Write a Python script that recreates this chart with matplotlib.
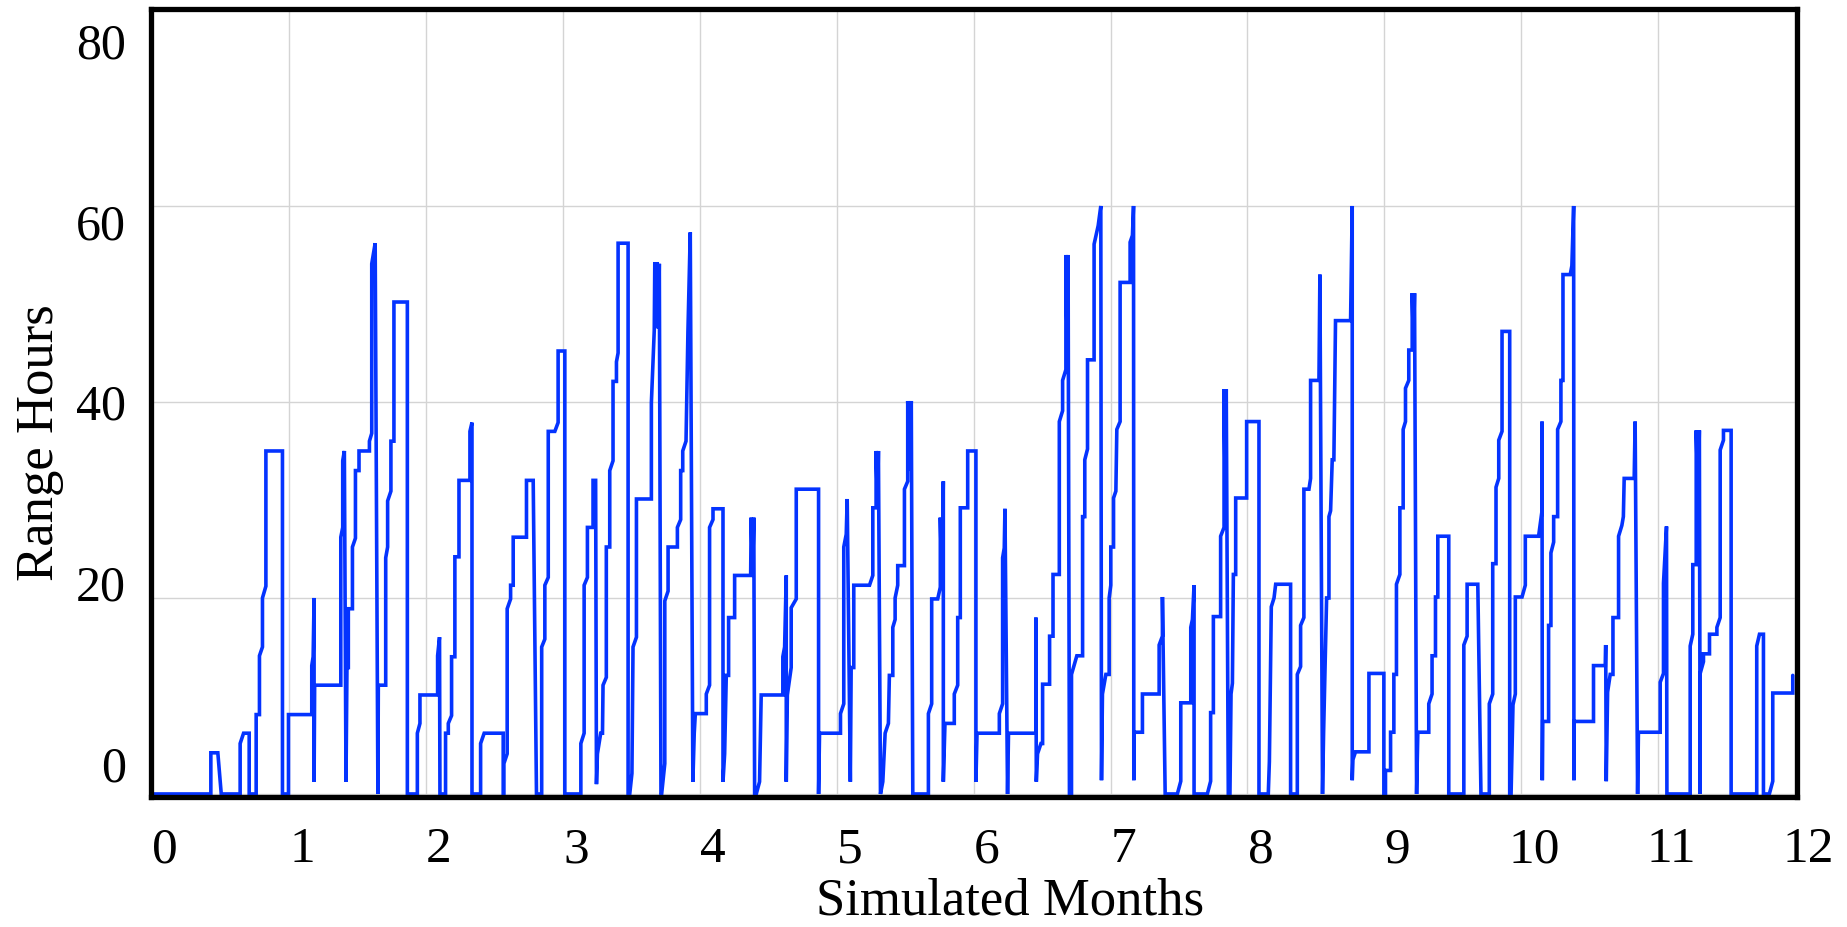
import matplotlib
matplotlib.use("Agg")
import matplotlib.pyplot as plt
from matplotlib.transforms import blended_transform_factory

# ---------------- data (vertices of the simulated trace) ----------------
months = [
    0.000, 0.430, 0.430, 0.481, 0.506, 0.644, 0.644, 0.669, 0.710, 0.710,
    0.761, 0.761, 0.785, 0.785, 0.807, 0.807, 0.832, 0.832, 0.953, 0.953,
    0.997, 0.997, 1.167, 1.167, 1.177, 1.184, 1.184, 1.188, 1.379, 1.379,
    1.393, 1.393, 1.405, 1.417, 1.424, 1.434, 1.434, 1.464, 1.464, 1.486,
    1.486, 1.512, 1.512, 1.588, 1.588, 1.605, 1.605, 1.630, 1.650, 1.653,
    1.707, 1.707, 1.721, 1.721, 1.745, 1.745, 1.767, 1.767, 1.865, 1.865,
    1.938, 1.938, 1.957, 1.957, 2.086, 2.086, 2.100, 2.103, 2.144, 2.144,
    2.164, 2.164, 2.188, 2.188, 2.212, 2.212, 2.242, 2.242, 2.322, 2.322,
    2.337, 2.337, 2.400, 2.400, 2.426, 2.565, 2.565, 2.570, 2.570, 2.594,
    2.594, 2.619, 2.619, 2.638, 2.638, 2.735, 2.735, 2.784, 2.808, 2.846,
    2.846, 2.869, 2.869, 2.894, 2.894, 2.942, 2.966, 2.966, 3.015, 3.015,
    3.132, 3.132, 3.156, 3.156, 3.180, 3.180, 3.221, 3.221, 3.240, 3.246,
    3.253, 3.277, 3.290, 3.294, 3.318, 3.318, 3.343, 3.343, 3.367, 3.367,
    3.392, 3.392, 3.404, 3.404, 3.477, 3.477, 3.489, 3.505, 3.513, 3.538,
    3.538, 3.647, 3.647, 3.668, 3.672, 3.690, 3.698, 3.705, 3.717, 3.722,
    3.745, 3.745, 3.769, 3.769, 3.837, 3.837, 3.861, 3.861, 3.876, 3.876,
    3.900, 3.914, 3.931, 3.950, 3.960, 3.968, 4.048, 4.048, 4.072, 4.072,
    4.097, 4.097, 4.170, 4.170, 4.182, 4.194, 4.211, 4.211, 4.255, 4.255,
    4.372, 4.376, 4.386, 4.395, 4.401, 4.413, 4.437, 4.449, 4.607, 4.607,
    4.620, 4.632, 4.632, 4.640, 4.668, 4.668, 4.705, 4.705, 4.868, 4.868,
    4.875, 5.028, 5.028, 5.052, 5.052, 5.070, 5.077, 5.100, 5.106, 5.125,
    5.125, 5.240, 5.264, 5.264, 5.288, 5.288, 5.298, 5.305, 5.320, 5.337,
    5.354, 5.378, 5.385, 5.410, 5.410, 5.427, 5.427, 5.446, 5.446, 5.495,
    5.495, 5.519, 5.519, 5.532, 5.545, 5.556, 5.670, 5.670, 5.694, 5.694,
    5.738, 5.757, 5.757, 5.768, 5.779, 5.779, 5.791, 5.859, 5.859, 5.884,
    5.884, 5.903, 5.903, 5.957, 5.957, 6.017, 6.017, 6.025, 6.188, 6.188,
    6.212, 6.212, 6.224, 6.229, 6.248, 6.255, 6.455, 6.455, 6.458, 6.467,
    6.492, 6.504, 6.504, 6.555, 6.555, 6.580, 6.580, 6.626, 6.626, 6.650,
    6.650, 6.674, 6.674, 6.684, 6.690, 6.700, 6.715, 6.715, 6.754, 6.796,
    6.796, 6.812, 6.812, 6.832, 6.832, 6.880, 6.880, 6.910, 6.929, 6.934,
    6.941, 6.966, 6.990, 6.990, 7.002, 7.002, 7.022, 7.022, 7.039, 7.046,
    7.070, 7.070, 7.143, 7.143, 7.160, 7.168, 7.170, 7.172, 7.233, 7.233,
    7.355, 7.355, 7.379, 7.379, 7.399, 7.488, 7.513, 7.513, 7.586, 7.586,
    7.598, 7.610, 7.610, 7.707, 7.731, 7.731, 7.751, 7.751, 7.804, 7.804,
    7.829, 7.829, 7.838, 7.845, 7.860, 7.872, 7.880, 7.890, 7.897, 7.914,
    7.914, 7.994, 7.994, 8.084, 8.084, 8.152, 8.160, 8.174, 8.194, 8.206,
    8.315, 8.315, 8.364, 8.364, 8.388, 8.388, 8.412, 8.412, 8.449, 8.461,
    8.461, 8.522, 8.529, 8.548, 8.556, 8.578, 8.595, 8.595, 8.607, 8.619,
    8.631, 8.643, 8.753, 8.765, 8.765, 8.770, 8.789, 8.887, 8.887, 8.996,
    8.996, 9.008, 9.008, 9.045, 9.045, 9.069, 9.069, 9.088, 9.088, 9.113,
    9.113, 9.137, 9.137, 9.154, 9.154, 9.178, 9.178, 9.203, 9.203, 9.212,
    9.220, 9.235, 9.244, 9.324, 9.324, 9.348, 9.348, 9.373, 9.373, 9.390,
    9.390, 9.470, 9.470, 9.580, 9.580, 9.604, 9.604, 9.682, 9.705, 9.766,
    9.766, 9.791, 9.791, 9.815, 9.815, 9.835, 9.835, 9.859, 9.859, 9.915,
    9.915, 9.925, 9.939, 9.956, 9.956, 10.005, 10.029, 10.029, 10.126, 10.151,
    10.151, 10.153, 10.156, 10.199, 10.199, 10.216, 10.216, 10.236, 10.236, 10.265,
    10.265, 10.289, 10.289, 10.304, 10.304, 10.357, 10.369, 10.382, 10.384, 10.386,
    10.527, 10.527, 10.613, 10.616, 10.620, 10.630, 10.649, 10.669, 10.669, 10.710,
    10.710, 10.734, 10.745, 10.751, 10.824, 10.831, 10.849, 10.855, 11.014, 11.014,
    11.038, 11.038, 11.060, 11.063, 11.233, 11.233, 11.252, 11.252, 11.277, 11.277,
    11.290, 11.300, 11.306, 11.306, 11.330, 11.330, 11.374, 11.374, 11.428, 11.428,
    11.452, 11.452, 11.476, 11.476, 11.532, 11.532, 11.719, 11.719, 11.739, 11.768,
    11.768, 11.811, 11.836, 11.836, 11.982, 11.982,
]

range_hours = [
    0.0, 0.0, 4.2, 4.2, 0.0, 0.0, 5.15, 6.2, 6.2, 0.0,
    0.0, 8.1, 8.1, 14.1, 15.0, 20.0, 21.2, 35.0, 35.0, 0.0,
    0.0, 8.1, 8.1, 13.1, 14.0, 20.0, 1.25, 11.1, 11.1, 26.2,
    27.2, 34.0, 35.0, 1.25, 12.9, 12.9, 18.9, 18.9, 25.2, 26.1,
    33.0, 33.0, 35.0, 35.0, 36.0, 36.8, 54.1, 56.2, 0.0, 11.1,
    11.1, 24.1, 25.2, 29.9, 30.9, 36.0, 36.0, 50.2, 50.2, 0.0,
    0.0, 6.2, 7.2, 10.1, 10.1, 14.1, 16.0, 0.0, 0.0, 6.2,
    6.2, 7.2, 8.0, 14.0, 14.0, 24.2, 24.2, 32.0, 32.0, 37.0,
    37.9, 0.0, 0.0, 5.15, 6.2, 6.2, 0.0, 0.0, 3.1, 4.1,
    18.9, 19.9, 21.3, 21.3, 26.2, 26.2, 32.0, 32.0, 0.0, 0.0,
    15.0, 15.8, 21.3, 22.1, 37.0, 37.0, 37.9, 45.2, 45.2, 0.0,
    0.0, 5.15, 6.2, 21.3, 22.1, 27.2, 27.2, 32.0, 32.0, 1.0,
    4.1, 6.2, 6.2, 11.1, 11.9, 25.2, 25.2, 33.0, 34.0, 42.1,
    42.1, 44.1, 45.0, 56.2, 56.2, 0.0, 0.0, 2.1, 15.0, 16.0,
    30.1, 30.1, 39.9, 47.3, 54.1, 54.1, 47.5, 54.1, 0.0, 0.0,
    3.1, 19.7, 20.7, 25.2, 25.2, 27.2, 28.0, 33.0, 33.0, 35.0,
    36.0, 47.2, 57.3, 1.25, 6.2, 8.2, 8.2, 10.2, 11.1, 27.2,
    28.0, 29.1, 29.1, 1.25, 4.1, 12.1, 12.1, 18.0, 18.0, 22.3,
    22.3, 28.2, 22.3, 28.2, 0.0, 0.0, 1.25, 10.1, 10.1, 14.0,
    15.0, 22.3, 1.25, 10.1, 12.9, 19.0, 19.9, 31.1, 31.1, 0.0,
    6.2, 6.2, 8.2, 9.2, 25.2, 26.5, 30.1, 1.25, 12.9, 12.9,
    21.3, 21.3, 22.3, 29.2, 29.2, 35.0, 29.5, 35.0, 0.0, 1.25,
    6.2, 7.2, 12.1, 12.1, 17.0, 17.8, 20.0, 21.3, 23.3, 23.3,
    31.1, 31.9, 40.1, 33.0, 40.1, 0.0, 0.0, 8.2, 9.2, 19.9,
    19.9, 21.1, 28.2, 21.5, 31.9, 1.25, 7.2, 7.2, 10.2, 11.1,
    18.0, 18.0, 29.2, 29.2, 35.0, 35.0, 1.25, 6.2, 6.2, 8.2,
    9.2, 24.1, 25.1, 29.1, 0.0, 6.2, 6.2, 18.0, 1.25, 4.1,
    5.15, 5.15, 11.2, 11.2, 16.1, 16.1, 22.4, 22.4, 38.0, 39.1,
    42.2, 43.3, 55.0, 45.0, 55.0, 0.0, 0.0, 12.2, 14.1, 14.1,
    28.3, 28.3, 34.1, 35.2, 44.3, 44.3, 56.1, 58.0, 60.0, 1.4,
    10.2, 12.2, 12.2, 20.0, 21.3, 25.2, 25.2, 30.2, 30.9, 37.2,
    38.0, 52.2, 52.2, 56.3, 57.0, 60.0, 1.4, 6.3, 6.3, 10.2,
    10.2, 15.2, 16.1, 20.1, 0.0, 0.0, 1.3, 9.3, 9.3, 17.0,
    17.8, 21.3, 0.0, 0.0, 1.3, 8.3, 8.3, 18.1, 18.1, 26.3,
    27.2, 41.3, 30.0, 41.3, 0.0, 0.0, 10.2, 11.3, 22.4, 22.4,
    30.2, 30.2, 38.0, 38.0, 0.0, 0.0, 3.3, 19.1, 20.0, 21.4,
    21.4, 0.0, 0.0, 12.2, 13.0, 17.2, 18.0, 31.1, 31.1, 32.2,
    42.2, 42.2, 53.0, 0.0, 6.3, 20.0, 20.0, 28.3, 28.9, 34.1,
    34.1, 48.3, 48.3, 60.0, 1.4, 3.5, 4.3, 4.3, 12.3, 12.3,
    0.0, 0.0, 2.4, 2.4, 6.3, 6.3, 12.2, 12.2, 21.4, 22.4,
    29.2, 29.2, 37.2, 38.0, 41.4, 42.2, 45.3, 45.3, 51.1, 46.0,
    51.1, 0.0, 6.3, 6.3, 9.2, 10.2, 14.1, 14.1, 20.1, 20.1,
    26.3, 26.3, 0.0, 0.0, 15.2, 16.1, 21.4, 21.4, 0.0, 0.0,
    9.2, 10.2, 23.5, 23.5, 31.3, 32.2, 36.1, 37.0, 47.2, 47.2,
    0.0, 0.0, 9.1, 10.2, 20.1, 20.1, 21.3, 26.3, 26.3, 28.9,
    38.0, 1.4, 7.4, 7.4, 17.2, 17.2, 24.6, 25.7, 28.3, 28.3,
    37.2, 38.0, 42.2, 42.2, 53.0, 53.0, 53.9, 60.0, 1.4, 7.4,
    7.4, 13.1, 13.1, 15.2, 1.3, 10.4, 12.2, 12.2, 18.0, 18.0,
    26.3, 27.4, 28.3, 32.2, 32.2, 38.0, 0.0, 6.3, 6.3, 11.4,
    12.3, 21.5, 27.3, 0.0, 0.0, 15.1, 16.3, 23.4, 23.4, 37.1,
    30.0, 37.1, 0.0, 12.3, 13.5, 14.3, 14.3, 16.3, 16.3, 17.0,
    18.0, 35.1, 36.1, 37.1, 37.1, 0.0, 0.0, 15.1, 16.3, 16.3,
    0.0, 0.0, 1.3, 10.3, 10.3, 12.1,
]

x_ticks = list(range(0, 13))
x_tick_labels = [str(t) for t in x_ticks]
y_ticks = [0, 20, 40, 60, 80]
y_tick_labels = [str(t) for t in y_ticks]
x_title = "Simulated Months"
y_title = "Range Hours"

# ---------------- figure ----------------
plt.rcParams["font.family"] = ["Liberation Serif", "DejaVu Serif"]

W, H, DPI = 1847, 927, 100
fig = plt.figure(figsize=(W / DPI, H / DPI), dpi=DPI)
ax = fig.add_axes([151 / W, 1 - 797 / H, (1797 - 151) / W, (797 - 9) / H])

ax.plot(months, range_hours, color="#0433ff", lw=2.6, zorder=2,
        solid_joinstyle="miter", solid_capstyle="round")

ax.set_xlim(-0.007, 12.013)
ax.set_ylim(-0.31, 80.1)

ax.set_xticks(x_ticks)
ax.set_yticks(y_ticks)
ax.set_xticklabels([])
ax.set_yticklabels([])
ax.tick_params(length=0)
ax.grid(True, color="#d4d4d4", lw=1.0, zorder=0)
ax.set_axisbelow(True)
for sp in ax.spines.values():
    sp.set_linewidth(3.8)
    sp.set_color("black")
    sp.set_zorder(5)

# tick labels (placed as in the reference)
tr_x = blended_transform_factory(ax.transData, ax.transAxes)
for t, lab in zip(x_ticks, x_tick_labels):
    ax.text(t + 0.095, -0.0825, lab, transform=tr_x, ha="center",
            va="baseline", fontsize=37, clip_on=False)

tr_y = blended_transform_factory(ax.transAxes, ax.transData)
for t, lab in zip(y_ticks, y_tick_labels):
    ax.text(-0.0152, 1.27 + 0.9225 * t, lab, transform=tr_y, ha="right",
            va="baseline", fontsize=36, clip_on=False)

fig.text(1010 / W, 0.002, x_title, ha="center", va="bottom", fontsize=38)
fig.text(40 / W, 1 - 443 / H, y_title, ha="center", va="center",
         rotation=90, fontsize=38)

fig.savefig("out.png", dpi=DPI)
